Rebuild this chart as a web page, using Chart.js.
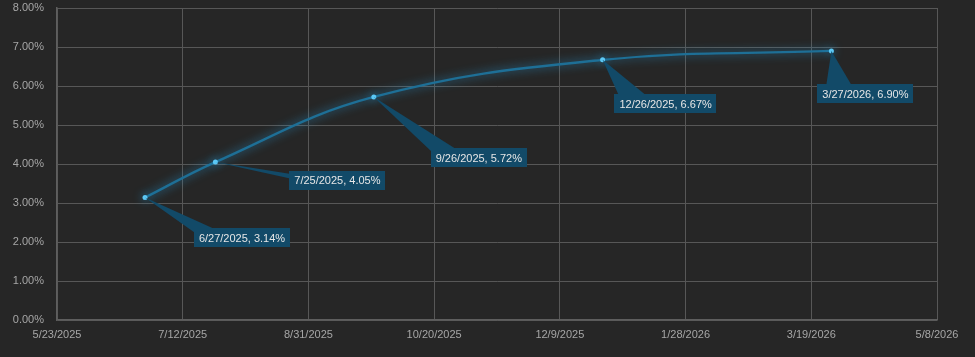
<!DOCTYPE html>
<html><head><meta charset="utf-8">
<script src="https://cdn.jsdelivr.net/npm/chart.js@4/dist/chart.umd.min.js"></script>
<style>html,body{margin:0;padding:0;background:#262626;}#wrap{width:975px;height:357px;position:relative;}</style>
</head><body><div id="wrap"><canvas id="c" width="975" height="357"></canvas></div>
<script>
const pointDates = ['6/27/2025','7/25/2025','9/26/2025','12/26/2025','3/27/2026'];
const rates = [3.14, 4.05, 5.72, 6.67, 6.90];
const xTickLabels = ['5/23/2025','7/12/2025','8/31/2025','10/20/2025','12/9/2025','1/28/2026','3/19/2026','5/8/2026'];
const yTickLabels = ['0.00%','1.00%','2.00%','3.00%','4.00%','5.00%','6.00%','7.00%','8.00%'];
const labelOffsets = [[97,40],[122,18],[105,61],[63,44],[34,43]];

const DAY = 86400000;
function toDay(s){const [m,d,y]=s.split('/').map(Number);return Date.UTC(y,m-1,d)/DAY;}
const x0 = toDay(xTickLabels[0]);
const data = pointDates.map((d,i)=>({x:toDay(d)-x0,y:rates[i]}));

const glow = {
  id:'glow',
  beforeDatasetDraw(chart){const c=chart.ctx;c.save();c.shadowColor='rgba(40,160,225,0.8)';c.shadowBlur=10;},
  afterDatasetDraw(chart){chart.ctx.restore();}
};
const callouts = {
  id:'callouts',
  afterDatasetsDraw(chart){
    const c=chart.ctx, meta=chart.getDatasetMeta(0);
    c.save();
    c.font='11px "Liberation Sans", Arial, sans-serif';
    meta.data.forEach((pt,i)=>{
      const txt=pointDates[i]+', '+rates[i].toFixed(2)+'%';
      const w=c.measureText(txt).width+10, h=19;
      const cx=pt.x+labelOffsets[i][0], cy=pt.y+labelOffsets[i][1];
      c.fillStyle='#124a68';
      c.beginPath();c.moveTo(pt.x,pt.y);c.lineTo(cx-w*0.42,cy);c.lineTo(cx-w*0.09,cy);c.closePath();c.fill();
      c.fillRect(Math.round(cx-w/2),Math.round(cy-h/2),Math.round(w),h);
      c.fillStyle='#e6e6e6';c.textAlign='center';c.textBaseline='middle';
      c.fillText(txt,cx,cy+1);
    });
    c.restore();
  }
};

new Chart(document.getElementById('c'),{
  type:'line',
  data:{datasets:[{data:data,borderColor:'#1e6f96',borderWidth:2.4,tension:0.4,
    pointRadius:2.5,pointBackgroundColor:'#5cc8f5',pointBorderColor:'#5cc8f5',pointBorderWidth:0}]},
  options:{
    responsive:false,animation:false,
    layout:{padding:{left:0,right:38,top:8,bottom:0}},
    plugins:{legend:{display:false},tooltip:{enabled:false}},
    scales:{
      x:{type:'linear',min:0,max:350,
        afterBuildTicks(s){s.ticks=xTickLabels.map(l=>({value:toDay(l)-x0}));},
        afterFit(s){s.height=37;},
        ticks:{color:'#a6a6a6',font:{family:'"Liberation Sans", Arial, sans-serif',size:11},padding:8,maxRotation:0,autoSkip:false,
          callback:(v,i)=>xTickLabels[i]},
        grid:{color:'#575757',lineWidth:1,drawTicks:false},
        border:{color:'#5e5e5e',width:1.5}},
      y:{min:0,max:8,
        afterBuildTicks(s){s.ticks=yTickLabels.map((l,i)=>({value:i}));},
        afterFit(s){s.width=57;s.paddingTop=0;},
        ticks:{color:'#a6a6a6',font:{family:'"Liberation Sans", Arial, sans-serif',size:11},padding:13,
          callback:(v,i)=>yTickLabels[i]},
        grid:{color:'#575757',lineWidth:1,drawTicks:false},
        border:{color:'#5e5e5e',width:1.5}}
    }
  },
  plugins:[glow,callouts]
});
</script></body></html>
